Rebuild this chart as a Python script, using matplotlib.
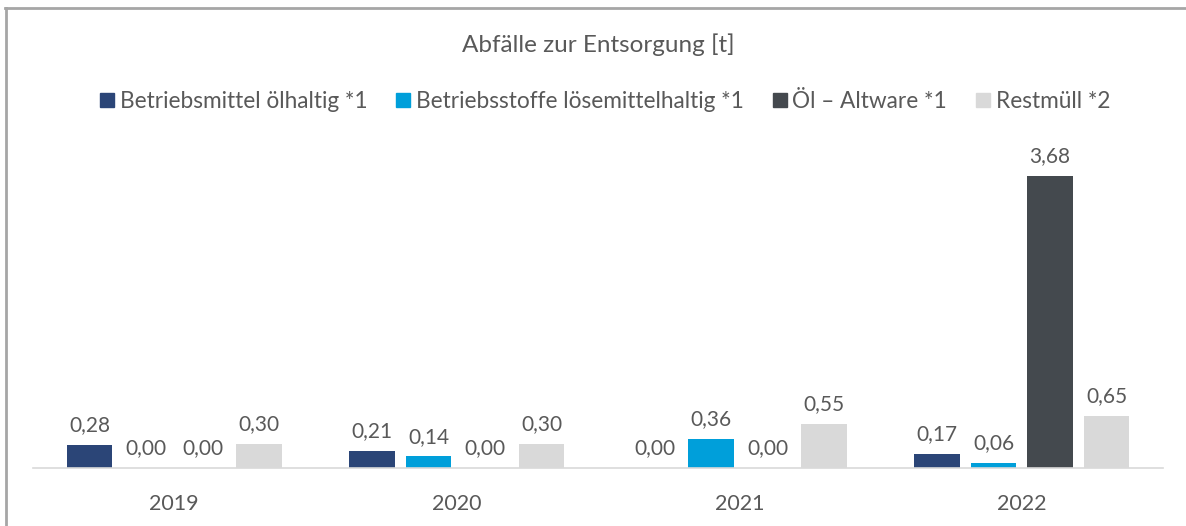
import matplotlib
matplotlib.use("Agg")
import matplotlib.pyplot as plt
from matplotlib.lines import Line2D
import numpy as np

years = ["2019", "2020", "2021", "2022"]
series_names = ["Betriebsmittel ölhaltig *1", "Betriebsstoffe lösemittelhaltig *1",
                "Öl – Altware *1", "Restmüll *2"]
betriebsmittel = [0.28, 0.21, 0.00, 0.17]
betriebsstoffe = [0.00, 0.14, 0.36, 0.06]
oel_altware = [0.00, 0.00, 0.00, 3.68]
restmuell = [0.30, 0.30, 0.55, 0.65]
values = [betriebsmittel, betriebsstoffe, oel_altware, restmuell]
colors = ["#2B4577", "#009FDA", "#44494E", "#D9D9D9"]

plt.rcParams['font.family'] = ['Lato', 'DejaVu Sans']
txt = "#595959"

fig = plt.figure(figsize=(11.86, 5.26), dpi=100)
ax = fig.add_axes([33/1186, 58.5/526, (1163-33)/1186, 317/526])

x = np.arange(len(years))
for j, (vals, c) in enumerate(zip(values, colors)):
    pos = x + (j - 1.5) * 0.2
    bars = ax.bar(pos, vals, width=0.16, color=c, zorder=2)
    for b, v in zip(bars, vals):
        ax.annotate(f"{v:.2f}".replace(".", ","), (b.get_x() + b.get_width()/2, v),
                    xytext=(0, 7), textcoords="offset points", ha="center", va="bottom",
                    fontsize=15, color=txt)

ax.set_xlim(-0.5, 3.5)
ax.set_ylim(0, 4.0)
ax.set_xticks(x)
ax.set_xticklabels(years, fontsize=15.5, color=txt)
ax.tick_params(axis='x', length=0, pad=19)
ax.set_yticks([])
for s in ["top", "right", "left"]:
    ax.spines[s].set_visible(False)
ax.spines["bottom"].set_color("#D9D9D9")
ax.spines["bottom"].set_linewidth(1.2)

fig.text(598/1186, 1 - 45/526, "Abfälle zur Entsorgung [t]", ha="center", va="center",
         fontsize=17.5, color=txt)

handles = [Line2D([], [], marker="s", linestyle="none", markersize=9.5,
                  markerfacecolor=c, markeredgecolor=c) for c in colors]
fig.legend(handles, series_names, loc="center", bbox_to_anchor=(603/1186, 1 - 101/526),
           ncol=4, frameon=False, fontsize=16.3, labelcolor=txt, handletextpad=0.05,
           columnspacing=1.1, handlelength=1.0)

# outer frame (top and left edges)
fig.add_artist(Line2D([5/1186, 1], [1 - 8/526, 1 - 8/526], transform=fig.transFigure,
                      color="#A6A6A6", linewidth=2))
fig.add_artist(Line2D([6/1186, 6/1186], [0, 1 - 8/526], transform=fig.transFigure,
                      color="#A6A6A6", linewidth=2))

fig.savefig("out.png", dpi=100)
